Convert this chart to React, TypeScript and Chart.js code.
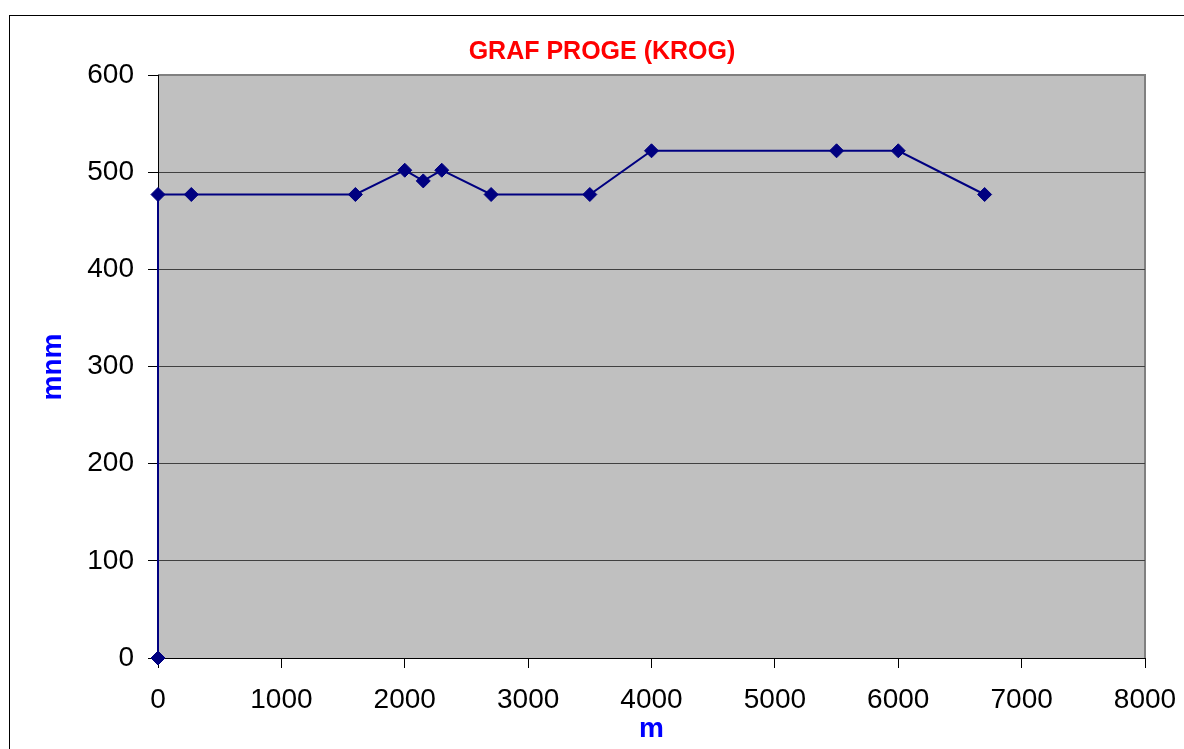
import React, { useEffect, useRef } from "react";
import { Chart, registerables } from "chart.js";

Chart.register(...registerables);

const distances = [0, 0, 270, 1600, 2000, 2150, 2300, 2700, 3500, 4000, 5500, 6000, 6700];
const elevations = [0, 477, 477, 477, 502, 491, 502, 477, 477, 522, 522, 522, 477];
const titleText = "GRAF PROGE (KROG)";
const xTitle = "m";
const yTitle = "mnm";

const FONT = "'Liberation Sans', Arial, sans-serif";

const decorPlugin = {
  id: "decor",
  beforeDraw(chart: any) {
    const { ctx, chartArea } = chart;
    ctx.save();
    ctx.fillStyle = "#ffffff";
    ctx.fillRect(0, 0, chart.width, chart.height);
    // outer frame
    ctx.strokeStyle = "#000000";
    ctx.lineWidth = 1;
    ctx.strokeRect(9.5, 15.5, 1400, 1000);
    // plot area
    ctx.fillStyle = "#C0C0C0";
    ctx.fillRect(chartArea.left, chartArea.top, chartArea.right - chartArea.left, chartArea.bottom - chartArea.top);
    ctx.strokeStyle = "#808080";
    ctx.lineWidth = 2;
    ctx.beginPath();
    ctx.moveTo(chartArea.left, chartArea.top);
    ctx.lineTo(chartArea.right, chartArea.top);
    ctx.lineTo(chartArea.right, chartArea.bottom);
    ctx.stroke();
    ctx.restore();
  },
  afterDraw(chart: any) {
    const { ctx, chartArea } = chart;
    ctx.save();
    ctx.fillStyle = "#FF0000";
    ctx.font = `bold 25px ${FONT}`;
    ctx.textAlign = "center";
    ctx.textBaseline = "middle";
    ctx.fillText(titleText, 602, 52);
    ctx.fillStyle = "#0000FF";
    ctx.font = `bold 28px ${FONT}`;
    ctx.fillText(xTitle, (chartArea.left + chartArea.right) / 2, 729);
    ctx.translate(53, 367);
    ctx.rotate(-Math.PI / 2);
    ctx.fillText(yTitle, 0, 0);
    ctx.restore();
  },
};

export default function App() {
  const ref = useRef<HTMLCanvasElement>(null);
  useEffect(() => {
    if (!ref.current) return;
    const data = distances.map((d, i) => ({ x: d, y: elevations[i] }));
    const chart = new Chart(ref.current, {
      type: "line",
      data: {
        datasets: [
          {
            data,
            borderColor: "#000080",
            backgroundColor: "#000080",
            borderWidth: 2,
            pointStyle: "rectRot",
            pointRadius: 7,
            pointBorderWidth: 1,
            pointBorderColor: "#000080",
            pointBackgroundColor: "#000080",
            tension: 0,
            clip: false as any,
          },
        ],
      },
      options: {
        animation: false,
        responsive: false,
        maintainAspectRatio: false,
        layout: { padding: { top: 75, right: 39, left: 0, bottom: 0 } },
        plugins: { legend: { display: false }, title: { display: false }, tooltip: { enabled: false } },
        scales: {
          x: {
            type: "linear",
            min: 0,
            max: 8000,
            afterFit: (s: any) => { s.height = 91; s.paddingLeft = 0; s.paddingRight = 0; },
            ticks: { stepSize: 1000, color: "#000", font: { family: FONT, size: 28 }, padding: 15, maxRotation: 0, callback: (v: any) => String(v) },
            grid: { drawOnChartArea: false, drawTicks: true, tickLength: 10, tickColor: "#000" },
            border: { display: true, color: "#000", width: 1 },
          },
          y: {
            type: "linear",
            min: 0,
            max: 600,
            afterFit: (s: any) => { s.width = 158; s.paddingTop = 0; s.paddingBottom = 0; },
            ticks: { stepSize: 100, color: "#000", font: { family: FONT, size: 28 }, padding: 14, callback: (v: any) => String(v) },
            grid: {
              drawOnChartArea: true,
              drawTicks: true,
              tickLength: 10,
              tickColor: "#000",
              color: (c: any) => (c.tick && (c.tick.value === 600 || c.tick.value === 0) ? "rgba(0,0,0,0)" : "#404040"),
            },
            border: { display: true, color: "#000", width: 1 },
          },
        },
      },
      plugins: [decorPlugin],
    });
    return () => chart.destroy();
  }, []);
  return (
    <div style={{ position: "fixed", left: 0, top: 0, width: 1184, height: 749, overflow: "hidden", background: "#fff" }}>
      <canvas ref={ref} width={1184} height={749} style={{ width: 1184, height: 749, display: "block" }} />
    </div>
  );
}
